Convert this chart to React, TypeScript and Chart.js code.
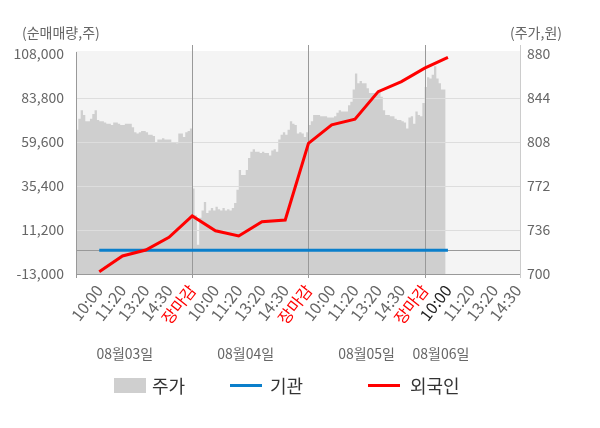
import { useEffect, useRef } from 'react';
import { Chart, registerables } from 'chart.js';

Chart.register(...registerables);

const FONT = "'Noto Sans CJK KR', 'Noto Sans', sans-serif";

// x axis: one unit per time slot, 5 slots per trading day
const timeLabels = [
  '10:00', '11:20', '13:20', '14:30', '장마감',
  '10:00', '11:20', '13:20', '14:30', '장마감',
  '10:00', '11:20', '13:20', '14:30', '장마감',
  '10:00', '11:20', '13:20', '14:30',
];
const dateLabels = ['08월03일', '08월04일', '08월05일', '08월06일'];
const slotsPerDay = 5;
const samplesPerSlot = 10;
const currentSlot = 16;

const leftTicks = [-13000, 11200, 35400, 59600, 83800, 108000];
const rightTicks = [700, 736, 772, 808, 844, 880];

// net buying (shares), one value per time slot starting at 10:00 of day 1
const foreignNet = [
  -11700, -3100, 200, 7200, 18900, 10800, 7900, 15800,
  16700, 58900, 69000, 72100, 87300, 92800, 100200, 106200,
];
const institutionNet = [0, 0, 0, 0, 0, 0, 0, 0, 0, 0, 0, 0, 0, 0, 0, 0];

// intraday price (won)
const day1Price = [
  818, 827, 834, 830, 825, 825, 827, 831, 834, 826, 825, 825, 824, 823, 823, 822, 824,
  824, 823, 822, 822, 823, 823, 823, 820, 816, 815, 816, 817, 817, 816, 814, 814, 813,
  808, 810, 810, 811, 810, 810, 810, 808, 808, 807, 815, 815, 812, 816, 817, 819,
];
const day2Price = [
  770, 748, 724, 746, 752, 759, 750, 752, 754, 752, 755, 753, 752, 754, 752, 753, 752,
  754, 758, 769, 785, 781, 781, 785, 795, 800, 802, 800, 800, 799, 800, 799, 799, 797,
  801, 802, 800, 810, 814, 816, 814, 818, 825, 823, 822, 815, 816, 815, 812, 816,
];
const day3Price = [
  822, 825, 830, 830, 830, 829, 829, 829, 828, 828, 828, 829, 832, 834, 833, 833, 833,
  838, 841, 851, 864, 856, 858, 856, 856, 852, 848, 848, 848, 849, 849, 845, 834, 830,
  830, 829, 829, 827, 826, 826, 825, 824, 819, 828, 829, 823, 833, 830, 829, 840,
];
const day4Price = [853, 861, 860, 863, 870, 860, 856, 851, 851, 856];

const dateLabelAt = [2.1, 7.3, 12.5, 15.7];

const chartDecor = {
  id: 'chartDecor',
  beforeDraw(chart: any) {
    const { ctx, chartArea } = chart;
    const { left, right, top, bottom } = chartArea;
    ctx.save();
    ctx.fillStyle = '#f4f4f4';
    ctx.fillRect(left, top - 3, right - left, bottom - top + 3);
    ctx.restore();
  },
  afterDatasetDraw(chart: any, args: any) {
    if (args.index !== 2) return;
    const { ctx, chartArea } = chart;
    const { left, right, top, bottom } = chartArea;
    const x = chart.scales.x;
    const y = chart.scales.y;
    const hline = (py: number, color: string) => {
      ctx.strokeStyle = color;
      ctx.beginPath();
      ctx.moveTo(left, py);
      ctx.lineTo(right, py);
      ctx.stroke();
    };
    const vline = (px: number, y0: number, y1: number, color: string) => {
      ctx.strokeStyle = color;
      ctx.beginPath();
      ctx.moveTo(px, y0);
      ctx.lineTo(px, y1);
      ctx.stroke();
    };
    ctx.save();
    ctx.lineWidth = 1;
    leftTicks.slice(1, -1).forEach((v) => hline(Math.round(y.getPixelForValue(v)) + 0.5, '#dddddd'));
    hline(Math.round(y.getPixelForValue(0)) + 0.5, '#999999');
    dateLabels.slice(1).forEach((_, i) => {
      const px = Math.round(x.getPixelForValue((i + 1) * slotsPerDay)) + 0.5;
      vline(px, top - 9, bottom + 4, '#999999');
    });
    vline(Math.round(left) + 0.5, top - 2, bottom + 4, '#999999');
    vline(Math.round(right) + 0.5, top - 9, bottom + 4, '#cccccc');
    hline(Math.round(bottom) + 0.5, '#999999');
    ctx.restore();
  },
  afterDraw(chart: any) {
    const { ctx } = chart;
    const x = chart.scales.x;
    ctx.save();
    ctx.fillStyle = '#666666';
    ctx.font = `14px ${FONT}`;
    ctx.textBaseline = 'middle';
    ctx.textAlign = 'left';
    ctx.fillText('(순매매량,주)', 22, 33);
    ctx.fillText('(주가,원)', 510, 33);
    ctx.textAlign = 'center';
    dateLabels.forEach((d, i) => {
      ctx.fillText(d, x.getPixelForValue(dateLabelAt[i]), 354);
    });
    ctx.restore();
  },
};

export default function App() {
  const canvasRef = useRef<HTMLCanvasElement>(null);
  const chartRef = useRef<Chart | null>(null);

  useEffect(() => {
    document.body.style.margin = '0';
    if (!canvasRef.current) return;
    if (chartRef.current) chartRef.current.destroy();

    const pricePoints: { x: number; y: number }[] = [];
    [day1Price, day2Price, day3Price, day4Price].forEach((day, d) => {
      day.forEach((p, i) => {
        pricePoints.push({ x: d * slotsPerDay + i / samplesPerSlot, y: p });
      });
    });

    chartRef.current = new Chart(canvasRef.current, {
      type: 'line',
      data: {
        datasets: [
          {
            label: '외국인',
            data: foreignNet.map((v, i) => ({ x: i + 1, y: v })),
            yAxisID: 'y',
            borderColor: '#ff0000',
            borderWidth: 3,
            pointRadius: 0,
            order: 0,
          },
          {
            label: '기관',
            data: institutionNet.map((v, i) => ({ x: i + 1, y: v })),
            yAxisID: 'y',
            borderColor: '#0b7fcb',
            borderWidth: 3,
            pointRadius: 0,
            order: 1,
          },
          {
            label: '주가',
            data: pricePoints,
            yAxisID: 'y1',
            borderWidth: 0,
            borderColor: 'rgba(0,0,0,0)',
            backgroundColor: '#cfcfcf',
            fill: 'start',
            stepped: true,
            pointRadius: 0,
            order: 2,
          },
        ],
      },
      options: {
        animation: false,
        responsive: true,
        maintainAspectRatio: false,
        layout: { padding: { top: 54, left: 0, right: 0, bottom: 0 } },
        plugins: {
          legend: { display: false },
          tooltip: { enabled: false },
        },
        scales: {
          x: {
            type: 'linear',
            min: 0,
            max: 19.1,
            afterBuildTicks: (s: any) => {
              s.ticks = timeLabels.map((_, i) => ({ value: i + 1 }));
            },
            afterFit: (s: any) => {
              s.height = 154;
            },
            grid: { display: false, drawTicks: false },
            border: { display: false },
            ticks: {
              autoSkip: false,
              minRotation: 52,
              maxRotation: 52,
              padding: 7,
              font: { size: 16, family: FONT },
              color: (c: any) => {
                const v = c.tick ? c.tick.value : 0;
                if (v % slotsPerDay === 0) return '#ff0000';
                if (v === currentSlot) return '#222222';
                return '#666666';
              },
              callback: (v: any) => timeLabels[Number(v) - 1] ?? '',
            },
          },
          y: {
            type: 'linear',
            position: 'left',
            min: leftTicks[0],
            max: leftTicks[leftTicks.length - 1],
            afterBuildTicks: (s: any) => {
              s.ticks = leftTicks.map((v) => ({ value: v }));
            },
            afterFit: (s: any) => {
              s.width = 76;
            },
            grid: { display: false, drawTicks: false },
            border: { display: false },
            ticks: {
              padding: 12,
              color: '#666666',
              font: { size: 14, family: FONT },
              callback: (v: any) => Number(v).toLocaleString('en-US'),
            },
          },
          y1: {
            type: 'linear',
            position: 'right',
            min: rightTicks[0],
            max: rightTicks[rightTicks.length - 1],
            afterBuildTicks: (s: any) => {
              s.ticks = rightTicks.map((v) => ({ value: v }));
            },
            afterFit: (s: any) => {
              s.width = 80;
            },
            grid: { display: false, drawTicks: false },
            border: { display: false },
            ticks: {
              padding: 7,
              color: '#666666',
              font: { size: 14, family: FONT },
            },
          },
        },
      },
      plugins: [chartDecor],
    } as any);

    return () => {
      if (chartRef.current) {
        chartRef.current.destroy();
        chartRef.current = null;
      }
    };
  }, []);

  const legendText = { position: 'absolute' as const, top: 372, fontSize: 18, color: '#333333', lineHeight: '26px' };

  return (
    <div style={{ position: 'fixed', left: 0, top: 0, width: 600, height: 428, background: '#ffffff', fontFamily: FONT }}>
      <canvas ref={canvasRef} />
      <div style={{ position: 'absolute', left: 114, top: 378, width: 32, height: 15, background: '#cfcfcf' }} />
      <span style={{ ...legendText, left: 152 }}>주가</span>
      <div style={{ position: 'absolute', left: 230, top: 384, width: 32, height: 3, background: '#0b7fcb' }} />
      <span style={{ ...legendText, left: 270 }}>기관</span>
      <div style={{ position: 'absolute', left: 368, top: 384, width: 32, height: 3, background: '#ff0000' }} />
      <span style={{ ...legendText, left: 410 }}>외국인</span>
    </div>
  );
}
